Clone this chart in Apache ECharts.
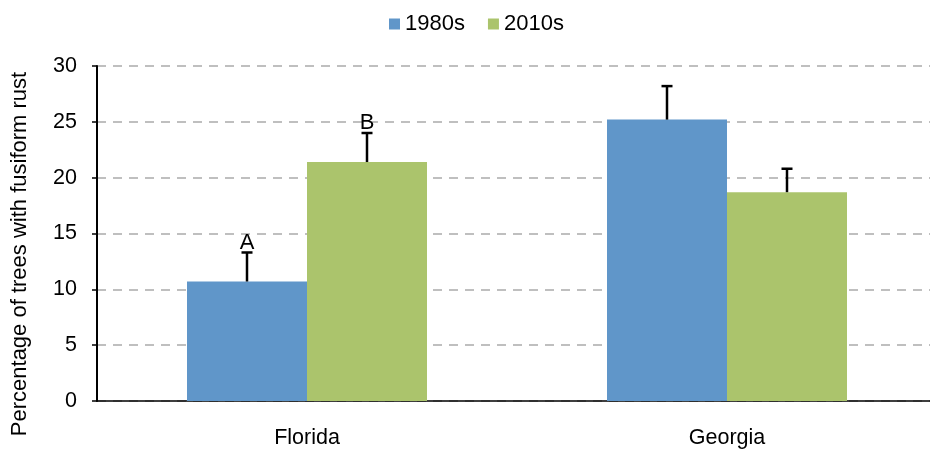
<!DOCTYPE html>
<html>
<head>
<meta charset="utf-8">
<script src="https://cdn.jsdelivr.net/npm/echarts@6/dist/echarts.min.js"></script>
<style>
html,body{margin:0;padding:0;background:#fff;}
#chart{width:930px;height:449px;}
</style>
</head>
<body>
<div id="chart"></div>
<script>
const categories = ['Florida', 'Georgia'];
const seriesNames = ['1980s', '2010s'];
const values1980 = [10.7, 25.2];
const values2010 = [21.4, 18.7];
const err1980 = [2.6, 3.0];
const err2010 = [2.6, 2.1];
const letters1980 = ['A', ''];
const letters2010 = ['B', ''];
const yTicks = [0, 5, 10, 15, 20, 25, 30];
const yTitle = 'Percentage of trees with fusiform rust';

const FONT = '"Liberation Sans", Arial, sans-serif';
const BLUE = '#6096c9';
const GREEN = '#abc46c';
const BAR_W = 120;

function errSeries(name, values, errs, letters, offset) {
  return {
    name: name + ' err',
    type: 'custom',
    z: 5,
    silent: true,
    data: values.map((v, i) => [i, v, errs[i]]),
    renderItem: function (params, api) {
      const i = params.dataIndex;
      const cat = api.value(0);
      const v = api.value(1);
      const e = api.value(2);
      const base = api.coord([cat, v]);
      const top = api.coord([cat, v + e]);
      const x = base[0] + offset;
      const children = [
        { type: 'line', shape: { x1: x, y1: base[1], x2: x, y2: top[1] },
          style: { stroke: '#000', lineWidth: 2.5 } },
        { type: 'line', shape: { x1: x - 5.5, y1: top[1], x2: x + 5.5, y2: top[1] },
          style: { stroke: '#000', lineWidth: 2.5 } }
      ];
      if (letters[i]) {
        children.push({ type: 'text', x: x, y: top[1] - 10,
          style: { text: letters[i], fill: '#000', font: '22px ' + FONT,
                   align: 'center', verticalAlign: 'middle' } });
      }
      return { type: 'group', children: children };
    }
  };
}

const chart = echarts.init(document.getElementById('chart'));
chart.setOption({
  animation: false,
  backgroundColor: '#fff',
  textStyle: { fontFamily: FONT },
  legend: {
    data: seriesNames,
    left: 384,
    top: 8,
    icon: 'rect',
    itemWidth: 11,
    itemHeight: 11,
    itemGap: 23,
    textStyle: { fontSize: 22, color: '#000', fontFamily: FONT }
  },
  grid: { left: 97, width: 840, top: 66, height: 335, outerBoundsMode: 'none', containLabel: false },
  graphic: [{
    type: 'text',
    x: 20, y: 254,
    rotation: Math.PI / 2,
    style: { text: yTitle, fill: '#000', font: '22px ' + FONT,
             align: 'center', verticalAlign: 'middle' }
  }],
  xAxis: {
    type: 'category',
    data: categories,
    axisLine: { lineStyle: { color: '#000', width: 1.5 } },
    axisTick: { alignWithLabel: true, length: 4, lineStyle: { color: '#000', width: 1.5 } },
    axisLabel: { color: '#000', fontSize: 21.5, margin: 26, fontFamily: FONT }
  },
  yAxis: {
    type: 'value',
    min: yTicks[0],
    max: yTicks[yTicks.length - 1],
    interval: yTicks[1] - yTicks[0],
    axisLine: { show: true, lineStyle: { color: '#000', width: 2 } },
    axisTick: { show: true, length: 5, lineStyle: { color: '#000', width: 1.5 } },
    axisLabel: { color: '#000', fontSize: 21.5, margin: 20, fontFamily: FONT },
    splitLine: { show: true, lineStyle: { color: '#bfbfbf', width: 2, type: [9, 7] } }
  },
  series: [
    { name: seriesNames[0], type: 'bar', data: values1980, barWidth: BAR_W, barGap: '0%',
      itemStyle: { color: BLUE } },
    { name: seriesNames[1], type: 'bar', data: values2010, barWidth: BAR_W, barGap: '0%',
      itemStyle: { color: GREEN } },
    errSeries(seriesNames[0], values1980, err1980, letters1980, -BAR_W / 2),
    errSeries(seriesNames[1], values2010, err2010, letters2010, BAR_W / 2)
  ]
});
</script>
</body>
</html>
